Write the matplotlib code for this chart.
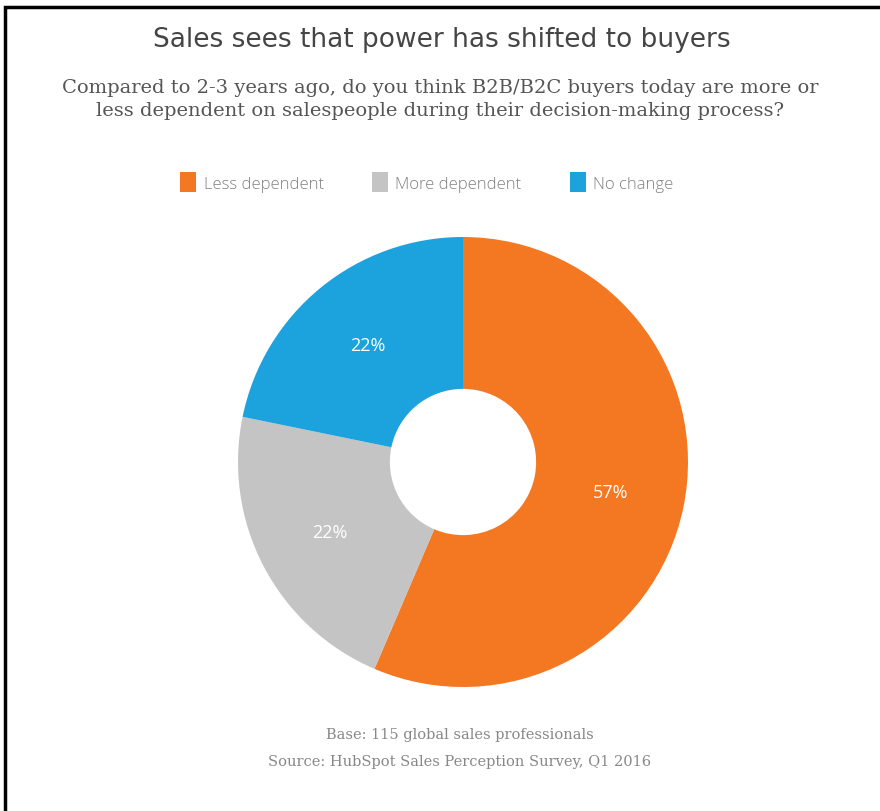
import matplotlib
matplotlib.use("Agg")
import matplotlib.pyplot as plt
import matplotlib.patches as patches

# data
categories = ["Less dependent", "More dependent", "No change"]
values = [57, 22, 22]
colors = ["#F47822", "#C4C4C4", "#1CA2DC"]

title = "Sales sees that power has shifted to buyers"
subtitle = ["Compared to 2-3 years ago, do you think B2B/B2C buyers today are more or",
            "less dependent on salespeople during their decision-making process?"]
notes = ["Base: 115 global sales professionals",
         "Source: HubSpot Sales Perception Survey, Q1 2016"]

W, H = 880, 812
fig = plt.figure(figsize=(W / 100, H / 100), dpi=100)
fig.patch.set_facecolor("white")


def fx(px):
    return px / W


def fy(py):
    return 1 - py / H


# frame (only left and top visible in the reference)
fig.add_artist(patches.Rectangle((fx(5), -0.05), 1.1, fy(8) + 0.05,
                                 transform=fig.transFigure, fill=False,
                                 edgecolor="black", linewidth=2.5, clip_on=False))

fig.text(fx(442), fy(40), title, ha="center", va="center",
         fontsize=19, color="#454545", family="DejaVu Sans")
fig.text(fx(440), fy(88), subtitle[0], ha="center", va="center",
         fontsize=14, color="#555555", family="DejaVu Serif")
fig.text(fx(440), fy(111), subtitle[1], ha="center", va="center",
         fontsize=14, color="#555555", family="DejaVu Serif")

# donut
R = 225
cx, cy = 463, 463
ax = fig.add_axes([fx(cx - R), fy(cy + R), 2 * R / W, 2 * R / H])
wedges, _, autotexts = ax.pie(
    values, colors=colors, startangle=90, counterclock=False,
    radius=1, pctdistance=0.67,
    autopct=lambda p: f"{round(p * sum(values) / 100)}%",
    wedgeprops=dict(width=0.675, linewidth=0),
    textprops=dict(color="white", fontsize=13, family="Open Sans"))
ax.set_xlim(-1, 1)
ax.set_ylim(-1, 1)
ax.set_aspect("equal")
ax.axis("off")

# legend
leg = fig.legend(wedges, categories, loc="center", bbox_to_anchor=(fx(427), fy(183)),
                 ncol=3, frameon=False, handlelength=0.95, handleheight=1.4,
                 handletextpad=0.45, columnspacing=2.9,
                 prop=dict(family="Open Sans", size=12, weight="light"))
for t in leg.get_texts():
    t.set_color("#808080")

fig.text(fx(460), fy(735), notes[0], ha="center", va="center",
         fontsize=10.5, color="#888888", family="DejaVu Serif")
fig.text(fx(460), fy(762), notes[1], ha="center", va="center",
         fontsize=10.5, color="#888888", family="DejaVu Serif")

fig.savefig("out.png", dpi=100, facecolor="white")
